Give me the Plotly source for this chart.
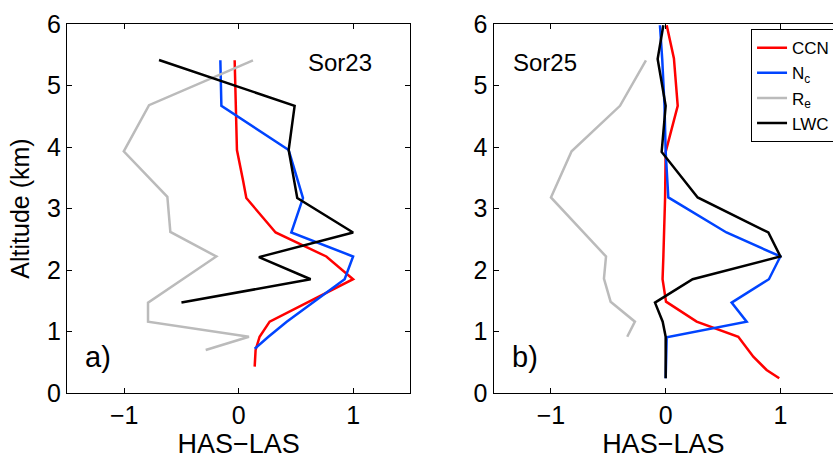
import plotly.graph_objects as go
from plotly.subplots import make_subplots

# ---- Panel a) Sor23 ----
a_ccn_x = [-0.035, -0.026, -0.015, 0.038, 0.067, 0.323, 0.766, 1.0, 0.271, 0.183, 0.148, 0.14]
a_ccn_y = [5.41, 4.55, 3.95, 3.46, 3.17, 2.61, 2.22, 1.85, 1.16, 0.915, 0.70, 0.43]
a_nc_x = [-0.16, -0.151, 0.437, 0.562, 0.46, 1.0, 0.926, 0.65, 0.42, 0.26, 0.14]
a_nc_y = [5.41, 4.67, 3.95, 3.17, 2.61, 2.22, 1.85, 1.47, 1.16, 0.915, 0.72]
a_re_x = [0.125, -0.783, -1.004, -0.623, -0.597, -0.195, -0.792, -0.792, 0.09, -0.288]
a_re_y = [5.41, 4.68, 3.93, 3.19, 2.62, 2.22, 1.47, 1.16, 0.915, 0.70]
a_lwc_x = [-0.696, 0.489, 0.437, 0.512, 1.0, 0.177, 0.629, -0.5]
a_lwc_y = [5.415, 4.67, 3.95, 3.17, 2.61, 2.21, 1.85, 1.47]

# ---- Panel b) Sor25 ----
b_ccn_x = [0.009, 0.072, 0.105, 0.0, -0.005, -0.01, -0.02, -0.027, 0.003, 0.27, 0.633, 0.764, 0.88, 0.99]
b_ccn_y = [5.98, 5.44, 4.67, 3.92, 3.18, 2.61, 2.22, 1.85, 1.485, 1.16, 0.915, 0.59, 0.374, 0.24]
b_nc_x = [-0.05, -0.03, -0.01, 0.0, 0.023, 0.53, 1.0, 0.90, 0.575, 0.706, 0.009, 0.0]
b_nc_y = [5.98, 5.43, 4.67, 3.92, 3.18, 2.61, 2.22, 1.85, 1.47, 1.16, 0.905, 0.24]
b_re_x = [-0.172, -0.398, -0.82, -1.0, -0.52, -0.538, -0.48, -0.268, -0.335]
b_re_y = [5.41, 4.67, 3.93, 3.18, 2.22, 1.86, 1.485, 1.16, 0.915]
b_lwc_x = [-0.02, -0.07, 0.0, -0.035, 0.279, 0.895, 1.0, 0.235, -0.093, -0.026, 0.0, 0.0]
b_lwc_y = [5.98, 5.43, 4.67, 3.92, 3.18, 2.61, 2.22, 1.85, 1.47, 1.16, 0.915, 0.24]

names = ["CCN", "N<sub>c</sub>", "R<sub>e</sub>", "LWC"]
colors = ["#ff0000", "#0044ff", "#bbbbbb", "#000000"]

x_ticks = [-1, 0, 1]
y_ticks = [0, 1, 2, 3, 4, 5, 6]

FONT = "Liberation Sans, Arial, Helvetica, sans-serif"

fig = make_subplots(rows=1, cols=2)

panel_a = [(a_ccn_x, a_ccn_y), (a_nc_x, a_nc_y), (a_re_x, a_re_y), (a_lwc_x, a_lwc_y)]
panel_b = [(b_ccn_x, b_ccn_y), (b_nc_x, b_nc_y), (b_re_x, b_re_y), (b_lwc_x, b_lwc_y)]

for i, (x, y) in enumerate(panel_a):
    fig.add_trace(go.Scatter(x=x, y=y, mode="lines", name=names[i],
                             line=dict(color=colors[i], width=2.5),
                             showlegend=False), row=1, col=1)
for i, (x, y) in enumerate(panel_b):
    fig.add_trace(go.Scatter(x=x, y=y, mode="lines", name=names[i],
                             line=dict(color=colors[i], width=2.5),
                             showlegend=True), row=1, col=2)

axis_common = dict(showline=True, linecolor="black", linewidth=1.2,
                   ticks="inside", ticklen=5, tickcolor="black", tickwidth=1,
                   showgrid=False, zeroline=False,
                   tickfont=dict(family=FONT, size=25, color="black"))

fig.update_xaxes(**axis_common, tickvals=x_ticks, mirror="ticks",
                 title=dict(text="HAS−LAS", font=dict(family=FONT, size=27, color="black"),
                            standoff=6))
fig.update_yaxes(**axis_common, tickvals=y_ticks, range=[0, 6])

fig.update_layout(
    xaxis=dict(domain=[0, 0.4482], range=[-1.5, 1.5]),
    xaxis2=dict(domain=[0.5569, 1.0], range=[-1.5, 1.4586]),
    yaxis=dict(mirror="ticks",
               title=dict(text="Altitude (km)", font=dict(family=FONT, size=25, color="black"),
                          standoff=10)),
    yaxis2=dict(mirror=False),
    width=833, height=459,
    margin=dict(l=67, r=0, t=24, b=66, autoexpand=False),
    plot_bgcolor="white", paper_bgcolor="white",
    legend=dict(x=0.893, y=0.986, xanchor="left", yanchor="top",
                bordercolor="black", borderwidth=1, bgcolor="white",
                font=dict(family=FONT, size=17, color="black"),
                tracegroupgap=0, itemwidth=30),
)

ann_font = dict(family=FONT, size=24, color="black")
fig.add_annotation(x=0.882, y=5.37, xref="x", yref="y", text="Sor23", showarrow=False, font=ann_font)
fig.add_annotation(x=-1.05, y=5.37, xref="x2", yref="y2", text="Sor25", showarrow=False, font=ann_font)
fig.add_annotation(x=-1.23, y=0.585, xref="x", yref="y", text="a)", showarrow=False,
                   font=dict(family=FONT, size=29, color="black"))
fig.add_annotation(x=-1.227, y=0.585, xref="x2", yref="y2", text="b)", showarrow=False,
                   font=dict(family=FONT, size=29, color="black"))

fig.write_html("out.html")
